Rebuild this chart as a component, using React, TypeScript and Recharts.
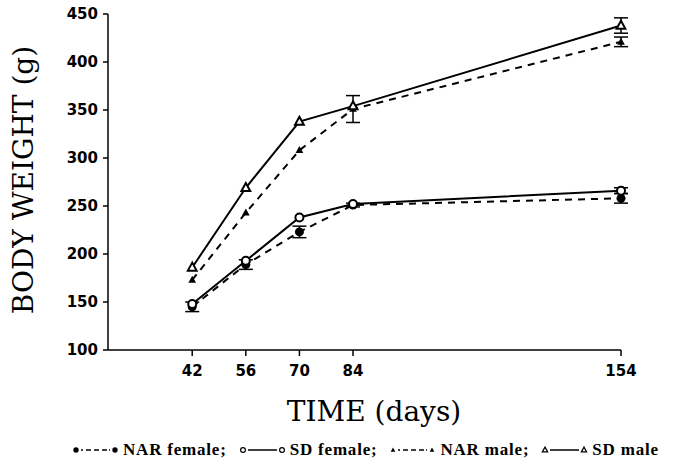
import React from "react"
import { LineChart, Line, XAxis, YAxis, ErrorBar, Legend } from "recharts"

const DAYS = [42, 56, 70, 84, 154]
const Y_TICKS = [100, 150, 200, 250, 300, 350, 400, 450]

const NAR_FEMALE = [145, 189, 223, 251, 258]
const NAR_FEMALE_SE = [5, 5, 6, 2, 5]
const SD_FEMALE = [148, 193, 238, 252, 266]
const SD_FEMALE_SE = [0, 0, 0, 0, 3]
const NAR_MALE = [173, 243, 308, 351, 421]
const NAR_MALE_SE = [0, 0, 0, 14, 5]
const SD_MALE = [186, 269, 338, 354, 438]
const SD_MALE_SE = [0, 0, 0, 0, 8]

const data = DAYS.map((day, i) => ({
  day,
  narF: NAR_FEMALE[i],
  narFErr: NAR_FEMALE_SE[i],
  sdF: SD_FEMALE[i],
  sdFErr: SD_FEMALE_SE[i],
  narM: NAR_MALE[i],
  narMErr: NAR_MALE_SE[i],
  sdM: SD_MALE[i],
  sdMErr: SD_MALE_SE[i],
}))

const INK = "#000"
const DASH = "7 6"
const tickFont = { fontFamily: "DejaVu Sans", fontWeight: 700, fontSize: 15, fill: INK }
const titleFont = { fontFamily: "DejaVu Serif", fontSize: 28, fill: INK }

type Kind = "dot" | "ring" | "tri" | "openTri"

function Marker({ kind, cx, cy, s = 1 }: { kind: Kind; cx: number; cy: number; s?: number }) {
  if (kind === "dot") return <circle cx={cx} cy={cy} r={4.5 * s} fill={INK} />
  if (kind === "ring")
    return <circle cx={cx} cy={cy} r={4 * s} fill="#fff" stroke={INK} strokeWidth={2 * Math.max(s, 0.6)} />
  const h = (kind === "tri" ? 7 : 8) * s
  const pts = `${cx},${cy - h * 0.6} ${cx - h * 0.55},${cy + h * 0.4} ${cx + h * 0.55},${cy + h * 0.4}`
  if (kind === "tri") return <polygon points={pts} fill={INK} />
  return <polygon points={pts} fill="#fff" stroke={INK} strokeWidth={2 * Math.max(s, 0.6)} />
}

const dotFor = (kind: Kind) => (p: any) =>
  <Marker key={`${kind}-${p.index}`} kind={kind} cx={p.cx} cy={p.cy} />

const LEGEND = [
  { kind: "dot" as Kind, dashed: true, label: "NAR female;" },
  { kind: "ring" as Kind, dashed: false, label: "SD female;" },
  { kind: "tri" as Kind, dashed: true, label: "NAR male;" },
  { kind: "openTri" as Kind, dashed: false, label: "SD male" },
]

function LegendRow() {
  return (
    <div
      style={{
        display: "flex",
        alignItems: "center",
        height: 50,
        boxSizing: "border-box",
        paddingTop: 10,
        paddingLeft: 72,
        whiteSpace: "nowrap",
      }}
    >
      {LEGEND.map((l) => (
        <div key={l.label} style={{ display: "flex", alignItems: "center", marginRight: 12, flexShrink: 0 }}>
          <svg width={48} height={12}>
            <line x1={9} x2={38} y1={6} y2={6} stroke={INK} strokeWidth={1.5}
              strokeDasharray={l.dashed ? "2 3 5 3 5 3 5" : undefined} />
            <Marker kind={l.kind} cx={4} cy={6} s={0.6} />
            <Marker kind={l.kind} cx={43} cy={6} s={0.6} />
          </svg>
          <span
            style={{
              fontFamily: "'Liberation Serif', serif",
              fontWeight: 700,
              fontSize: 17,
              letterSpacing: 0.8,
              marginLeft: 3,
            }}
          >
            {l.label}
          </span>
        </div>
      ))}
    </div>
  )
}

export default function App() {
  return (
    <div style={{ position: "absolute", left: 0, top: 0, width: 682, height: 470, background: "#fff" }}>
      <LineChart width={682} height={470} data={data} margin={{ top: 14, right: 61, left: 0, bottom: 0 }}>
        <XAxis
          type="number"
          dataKey="day"
          domain={[20, 154]}
          ticks={DAYS}
          height={70}
          tickSize={6}
          tickMargin={9}
          axisLine={{ stroke: INK, strokeWidth: 1.5 }}
          tickLine={{ stroke: INK, strokeWidth: 1.5 }}
          tick={tickFont}
          label={{
            content: () => (
              <text x={374} y={421} textAnchor="middle" style={titleFont}>TIME (days)</text>
            ),
          }}
        />
        <YAxis
          type="number"
          domain={[100, 450]}
          ticks={Y_TICKS}
          width={108}
          tickSize={5}
          tickMargin={5}
          axisLine={{ stroke: INK, strokeWidth: 1.5 }}
          tickLine={{ stroke: INK, strokeWidth: 1.5 }}
          tick={tickFont}
          label={{
            content: () => (
              <text x={33} y={180} textAnchor="middle" transform="rotate(-90 33 180)" style={titleFont}>
                BODY WEIGHT (g)
              </text>
            ),
          }}
        />
        <Legend
          verticalAlign="bottom"
          height={50}
          wrapperStyle={{ left: 0, width: 682 }}
          content={() => <LegendRow />}
        />
        <Line dataKey="narF" stroke={INK} strokeWidth={2} strokeDasharray={DASH} dot={dotFor("dot")} isAnimationActive={false}>
          <ErrorBar dataKey="narFErr" width={7} stroke={INK} strokeWidth={1.5} direction="y" />
        </Line>
        <Line dataKey="narM" stroke={INK} strokeWidth={2} strokeDasharray={DASH} dot={dotFor("tri")} isAnimationActive={false}>
          <ErrorBar dataKey="narMErr" width={7} stroke={INK} strokeWidth={1.5} direction="y" />
        </Line>
        <Line dataKey="sdF" stroke={INK} strokeWidth={2} dot={dotFor("ring")} isAnimationActive={false}>
          <ErrorBar dataKey="sdFErr" width={7} stroke={INK} strokeWidth={1.5} direction="y" />
        </Line>
        <Line dataKey="sdM" stroke={INK} strokeWidth={2} dot={dotFor("openTri")} isAnimationActive={false}>
          <ErrorBar dataKey="sdMErr" width={7} stroke={INK} strokeWidth={1.5} direction="y" />
        </Line>
      </LineChart>
    </div>
  )
}
